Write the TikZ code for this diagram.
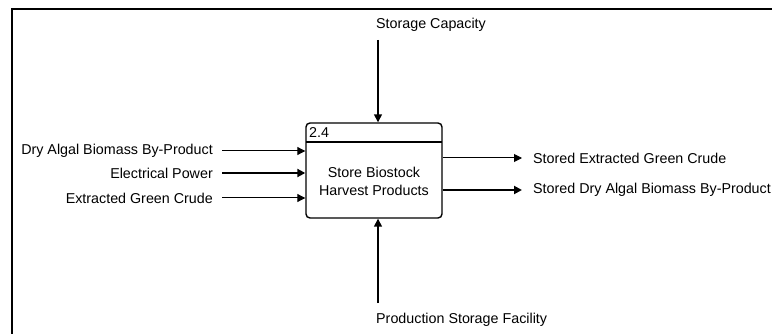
\documentclass[tikz,border=0pt]{standalone}
\usepackage{fontspec}
\setmainfont{Liberation Sans}
\usetikzlibrary{arrows.meta}
\tikzset{
  lbl/.style={inner sep=0pt, font=\fontsize{14.3}{18}\selectfont},
  flow/.style={draw=black, line width=1pt, -{Triangle[length=8pt,width=8pt]}},
  heavy/.style={flow, line width=2pt},
  proc/.style={draw=black, line width=1.4pt, rounded corners=4pt, minimum width=136pt, minimum height=95pt, inner sep=0pt}
}
\begin{document}
\begin{tikzpicture}[x=1pt,y=-1pt]
\useasboundingbox (0,0) rectangle (772,334);
% frame
\draw[line width=2pt] (12,336) -- (12,9) -- (774,9);
% process box
\node[proc] (box) at (374,170.5) {};
\coordinate (hl) at (306,142);
\coordinate (hr) at (442,142);
\draw[line width=1.4pt] (hl) -- (hr);
\node[lbl, anchor=north west] (num) at (309,127) {2.4};
\node[lbl, align=center] (name) at (374,181) {Store Biostock\\Harvest Products};
% control and mechanism
\node[lbl, anchor=west] (ctl) at (376,25) {Storage Capacity};
\node[lbl, anchor=west] (mech) at (376,320) {Production Storage Facility};
\coordinate (ctls) at (378,40);
\coordinate (mechs) at (378,303);
\draw[flow, line width=1.5pt] (ctls) -- (ctls |- box.north);
\draw[flow, line width=1.5pt] (mechs) -- (mechs |- box.south);
% inputs
\node[lbl, anchor=east] (in1) at (213,151) {Dry Algal Biomass By-Product};
\node[lbl, anchor=east] (in2) at (213,173) {Electrical Power};
\node[lbl, anchor=east] (in3) at (213,198) {Extracted Green Crude};
\draw[flow] ([xshift=9pt]in1.east) -- (in1.east -| box.west);
\draw[heavy] ([xshift=9pt]in2.east) -- (in2.east -| box.west);
\draw[flow] ([xshift=9pt]in3.east) -- (in3.east -| box.west);
% outputs
\node[lbl, anchor=west] (out1) at (533,158) {Stored Extracted Green Crude};
\node[lbl, anchor=west] (out2) at (533,190) {Stored Dry Algal Biomass By-Product};
\draw[flow] (out1.west -| box.east) -- ([xshift=-11pt]out1.west);
\draw[heavy] (out2.west -| box.east) -- ([xshift=-11pt]out2.west);
\end{tikzpicture}
\end{document}
